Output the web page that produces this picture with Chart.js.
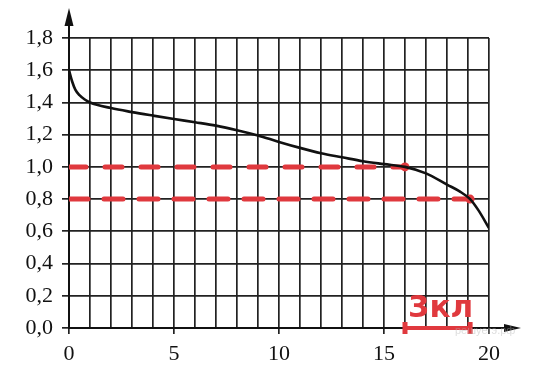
<!DOCTYPE html>
<html><head><meta charset="utf-8">
<script src="https://cdn.jsdelivr.net/npm/chart.js@4"></script>
<style>html,body{margin:0;padding:0;background:#fff}#wrap{width:538px;height:377px}</style>
</head><body><div id="wrap"><canvas id="c" width="538" height="377"></canvas></div>
<script>
const curveX = [0, 0.15, 0.3, 0.5, 0.75, 1, 2, 3, 4, 5, 6, 7, 8, 9, 10, 11, 12, 13, 14, 15, 16, 17, 18, 18.6, 19.1, 19.5, 20];
const curveY = [1.60, 1.53, 1.48, 1.445, 1.418, 1.40, 1.365, 1.34, 1.318, 1.297, 1.277, 1.256, 1.228, 1.195, 1.155, 1.118, 1.085, 1.06, 1.035, 1.017, 1.0, 0.96, 0.89, 0.848, 0.80, 0.73, 0.62];
const level1X = [0, 16];
const level1Y = [1.0, 1.0];
const level2X = [0, 19.1];
const level2Y = [0.8, 0.8];
const bracketX = [16, 19.1];
const bracketY = [0, 0];
const bracketLabel = "3кл";
const xTickLabels = [0, 5, 10, 15, 20];
const yTicks = [0, 0.2, 0.4, 0.6, 0.8, 1.0, 1.2, 1.4, 1.6, 1.8];
const watermark = "решуегэ.рф";

const RED = '#e0393e';
const toPts = (xs, ys) => xs.map((x, i) => ({x, y: ys[i]}));

const extras = {
  id: 'extras',
  afterDraw(chart) {
    const {ctx, chartArea: a, scales: {x, y}} = chart;
    ctx.save();
    ctx.strokeStyle = '#111'; ctx.fillStyle = '#111'; ctx.lineWidth = 2;
    ctx.beginPath(); ctx.moveTo(a.left, a.top); ctx.lineTo(a.left, 12); ctx.stroke();
    ctx.beginPath(); ctx.moveTo(a.left, 8); ctx.lineTo(a.left - 4.5, 26); ctx.lineTo(a.left + 4.5, 26); ctx.closePath(); ctx.fill();
    ctx.beginPath(); ctx.moveTo(a.right, a.bottom); ctx.lineTo(516, a.bottom); ctx.stroke();
    ctx.beginPath(); ctx.moveTo(521, a.bottom); ctx.lineTo(504, a.bottom - 4); ctx.lineTo(504, a.bottom + 4); ctx.closePath(); ctx.fill();
    ctx.fillStyle = 'rgba(180,180,180,0.45)';
    ctx.font = '11px "Liberation Sans"';
    ctx.textAlign = 'left'; ctx.textBaseline = 'middle';
    ctx.fillText(watermark, 455, a.bottom + 3);
    const cx = (x.getPixelForValue(bracketX[0]) + x.getPixelForValue(bracketX[1])) / 2;
    ctx.fillStyle = RED;
    ctx.font = 'bold 31px "DejaVu Sans"';
    ctx.textAlign = 'center'; ctx.textBaseline = 'alphabetic';
    ctx.fillText(bracketLabel, cx + 3, y.getPixelForValue(0) - 11);
    ctx.restore();
  }
};

new Chart(document.getElementById('c'), {
  type: 'line',
  data: {
    datasets: [
      {data: toPts(curveX, curveY), borderColor: '#111', borderWidth: 2.6, pointRadius: 0, cubicInterpolationMode: 'monotone', fill: false, order: 1},
      {data: toPts(level1X, level1Y), borderColor: RED, borderWidth: 5, borderDash: [17, 19], borderCapStyle: 'round', pointRadius: [0, 4.5], pointBackgroundColor: RED, pointBorderWidth: 0, order: 2},
      {data: toPts(level2X, level2Y), borderColor: RED, borderWidth: 5, borderDash: [19, 16], borderCapStyle: 'round', pointRadius: [0, 4.5], pointBackgroundColor: RED, pointBorderWidth: 0, order: 2},
      {data: toPts(bracketX, bracketY), borderColor: RED, borderWidth: 4, pointStyle: 'line', rotation: 90, pointRadius: 6, pointBorderColor: RED, pointBorderWidth: 5, clip: false, order: 0}
    ]
  },
  options: {
    responsive: false, animation: false, devicePixelRatio: 1,
    layout: {padding: {left: 0, right: 49, top: 38, bottom: 0}},
    plugins: {legend: {display: false}, tooltip: {enabled: false}},
    scales: {
      x: {
        type: 'linear', min: 0, max: 20,
        afterFit: s => { s.height = 49; },
        afterBuildTicks: s => { s.ticks = Array.from({length: 21}, (_, i) => ({value: i})); },
        ticks: {
          autoSkip: false, maxRotation: 0, padding: 7,
          color: '#111', font: {family: '"Liberation Serif"', size: 22},
          callback: v => xTickLabels.includes(v) ? String(v) : ''
        },
        grid: {color: '#222', lineWidth: 1.7, tickLength: 6,
          tickColor: c => (c.tick && xTickLabels.includes(c.tick.value)) ? '#222' : 'rgba(0,0,0,0)'},
        border: {color: '#111', width: 2}
      },
      y: {
        min: 0, max: 1.8,
        afterFit: s => { s.width = 69; },
        afterBuildTicks: s => { s.ticks = yTicks.map(v => ({value: v})); },
        ticks: {
          padding: 9, color: '#111', font: {family: '"Liberation Serif"', size: 22},
          callback: v => v.toFixed(1).replace('.', ',')
        },
        grid: {color: '#222', lineWidth: 1.7, tickLength: 7},
        border: {color: '#111', width: 2}
      }
    }
  },
  plugins: [extras]
});
</script></body></html>
